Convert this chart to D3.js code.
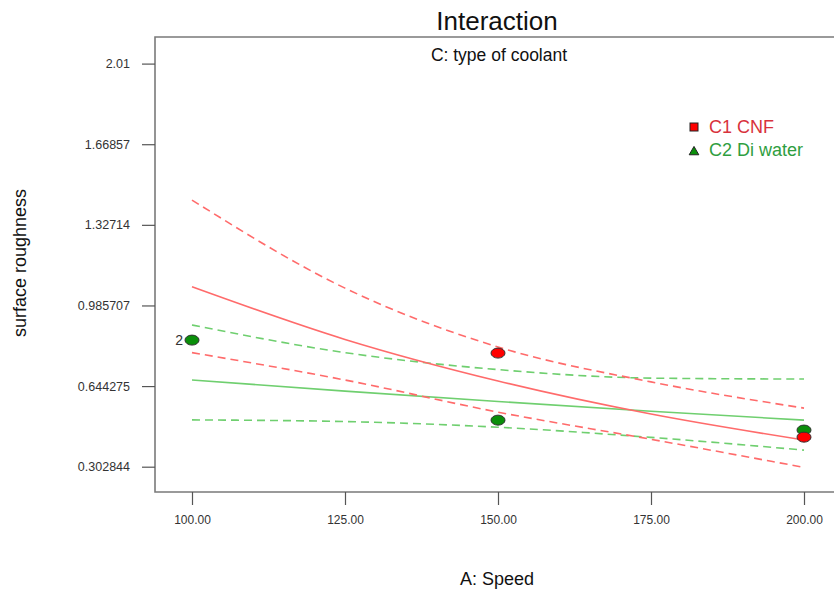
<!DOCTYPE html>
<html>
<head>
<meta charset="utf-8">
<script src="https://cdn.jsdelivr.net/npm/d3@7"></script>
<style>
  html, body { margin: 0; padding: 0; background: #ffffff; }
  svg { display: block; font-family: "Liberation Sans", Arial, sans-serif; }
</style>
</head>
<body>
<svg id="chart" width="834" height="593"></svg>
<script>
// Speed levels at which the fitted curves are sampled
const speed = [100, 125, 150, 175, 200];

// C1 CNF: prediction and 95% confidence band
const cnfFit   = [1.065, 0.842, 0.666, 0.526, 0.416];
const cnfUpper = [1.432, 1.059, 0.810, 0.662, 0.551];
const cnfLower = [0.786, 0.670, 0.534, 0.419, 0.300];

// C2 Di water: prediction and 95% confidence band
const waterFit   = [0.670, 0.623, 0.579, 0.538, 0.500];
const waterUpper = [0.903, 0.786, 0.714, 0.678, 0.674];
const waterLower = [0.501, 0.494, 0.470, 0.427, 0.373];

// Design points
const pointSpeed   = [100, 150, 150, 200, 200];
const pointValue   = [0.839, 0.500, 0.784, 0.458, 0.428];
const pointCoolant = ["C2", "C2", "C1", "C2", "C1"];
const pointCount   = [2, 1, 1, 1, 1];

// Axis ticks
const xTicks = [100, 125, 150, 175, 200];
const yTicks = [0.302844, 0.644275, 0.985707, 1.32714, 1.66857, 2.01];

const legendLabels = ["C1 CNF", "C2 Di water"];

const colors = {
  C1: { line: "#ff6b6b", point: "#ff0000", text: "#d8323c" },
  C2: { line: "#6fcf6f", point: "#0a8f0a", text: "#2f9e3f" }
};

const svg = d3.select("#chart");

const frame = { left: 155, top: 37, right: 840, bottom: 492 };

const x = d3.scaleLinear().domain([100, 200]).range([192, 804]);
const y = d3.scaleLinear().domain([0.302844, 2.01]).range([466.7, 63.6]);

// Plot frame (right edge runs off the canvas)
svg.append("path")
  .attr("d", `M${frame.right},${frame.top}H${frame.left}V${frame.bottom}H${frame.right}`)
  .attr("fill", "none")
  .attr("stroke", "#7a7a7a")
  .attr("stroke-width", 1.6);

// Y axis
const yAxis = d3.axisLeft(y)
  .tickValues(yTicks)
  .tickFormat(d => String(d))
  .tickSize(13)
  .tickPadding(12);
const gy = svg.append("g").attr("transform", `translate(${frame.left},0)`).call(yAxis);
gy.select(".domain").remove();
gy.selectAll(".tick line").attr("stroke", "#555").attr("stroke-width", 1.2);
gy.selectAll(".tick text")
  .attr("fill", "#333")
  .style("font-size", "12.5px")
  .style("font-family", "'Liberation Sans', Arial, sans-serif");

// X axis
const xAxis = d3.axisBottom(x)
  .tickValues(xTicks)
  .tickFormat(d3.format(".2f"))
  .tickSize(13)
  .tickPadding(10);
const gx = svg.append("g").attr("transform", `translate(0,${frame.bottom})`).call(xAxis);
gx.select(".domain").remove();
gx.selectAll(".tick line").attr("stroke", "#555").attr("stroke-width", 1.2);
gx.selectAll(".tick text")
  .attr("fill", "#333")
  .style("font-size", "12px")
  .style("font-family", "'Liberation Sans', Arial, sans-serif");

// Titles
svg.append("text")
  .attr("x", 497).attr("y", 30)
  .attr("text-anchor", "middle")
  .attr("fill", "#111")
  .style("font-size", "26px")
  .text("Interaction");

svg.append("text")
  .attr("x", 499).attr("y", 61)
  .attr("text-anchor", "middle")
  .attr("fill", "#111")
  .style("font-size", "17.5px")
  .text("C: type of coolant");

svg.append("text")
  .attr("x", 497).attr("y", 585)
  .attr("text-anchor", "middle")
  .attr("fill", "#111")
  .style("font-size", "18px")
  .text("A: Speed");

svg.append("text")
  .attr("transform", "translate(26,263) rotate(-90)")
  .attr("text-anchor", "middle")
  .attr("fill", "#111")
  .style("font-size", "18px")
  .text("surface roughness");

// Fitted curves and confidence bands
const line = d3.line()
  .x(d => x(d[0]))
  .y(d => y(d[1]))
  .curve(d3.curveMonotoneX);

const series = [
  { values: waterUpper, key: "C2", dashed: true },
  { values: waterLower, key: "C2", dashed: true },
  { values: waterFit,   key: "C2", dashed: false },
  { values: cnfUpper,   key: "C1", dashed: true },
  { values: cnfLower,   key: "C1", dashed: true },
  { values: cnfFit,     key: "C1", dashed: false }
];

const gLines = svg.append("g");
series.forEach(s => {
  gLines.append("path")
    .datum(speed.map((v, i) => [v, s.values[i]]))
    .attr("d", line)
    .attr("fill", "none")
    .attr("stroke", colors[s.key].line)
    .attr("stroke-width", 1.6)
    .attr("stroke-dasharray", s.dashed ? "8,5" : null);
});

// Design points
const points = pointSpeed.map((s, i) => ({
  speed: s, value: pointValue[i], key: pointCoolant[i], count: pointCount[i]
}));

const gPts = svg.append("g");
gPts.selectAll("ellipse")
  .data(points)
  .join("ellipse")
  .attr("cx", d => x(d.speed))
  .attr("cy", d => y(d.value))
  .attr("rx", 7)
  .attr("ry", 5)
  .attr("fill", d => colors[d.key].point)
  .attr("stroke", "#333")
  .attr("stroke-width", 1);

gPts.selectAll("text")
  .data(points.filter(d => d.count > 1))
  .join("text")
  .attr("x", d => x(d.speed) - 9)
  .attr("y", d => y(d.value) + 5)
  .attr("text-anchor", "end")
  .attr("fill", "#333")
  .style("font-size", "14px")
  .text(d => d.count);

// Legend
const legend = svg.append("g").attr("transform", "translate(694,127)");
legend.append("rect")
  .attr("x", -4).attr("y", -4).attr("width", 8).attr("height", 8)
  .attr("fill", colors.C1.point)
  .attr("stroke", "#222").attr("stroke-width", 1);
legend.append("path")
  .attr("d", d3.symbol().type(d3.symbolTriangle).size(40)())
  .attr("transform", "translate(0,25)")
  .attr("fill", colors.C2.point)
  .attr("stroke", "#222").attr("stroke-width", 1);
legend.selectAll("text.lbl")
  .data(legendLabels)
  .join("text")
  .attr("class", "lbl")
  .attr("x", 15)
  .attr("y", (d, i) => i * 23 + 6)
  .attr("fill", (d, i) => i === 0 ? colors.C1.text : colors.C2.text)
  .style("font-size", "18px")
  .text(d => d);
</script>
</body>
</html>
